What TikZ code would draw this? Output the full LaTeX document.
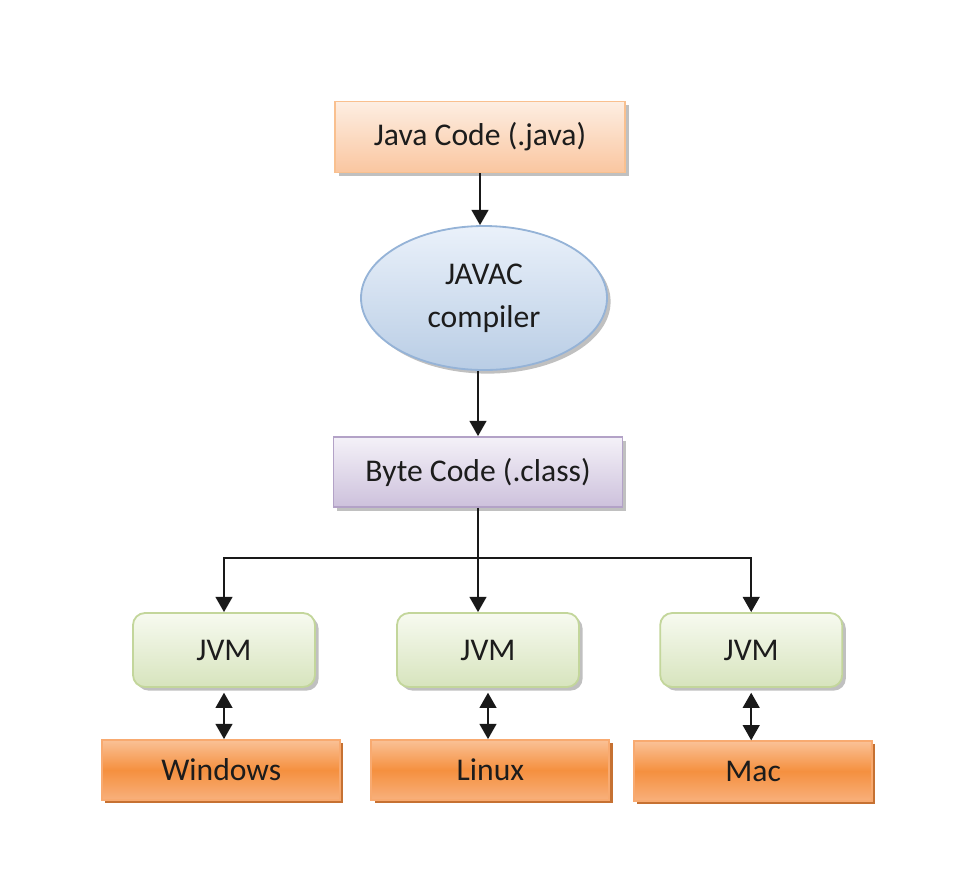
\documentclass[tikz,border=0pt]{standalone}
\usepackage{fontspec}
\setmainfont{Carlito}
\usetikzlibrary{arrows.meta,positioning,shapes.geometric,shadows}

\definecolor{srcTop}{HTML}{FDEEE2}
\definecolor{srcBot}{HTML}{FAC6A0}
\definecolor{srcLine}{HTML}{F9C08F}
\definecolor{cmpTop}{HTML}{EAF1FA}
\definecolor{cmpBot}{HTML}{B9CDE5}
\definecolor{cmpLine}{HTML}{95B3D7}
\definecolor{bcTop}{HTML}{F4F1F8}
\definecolor{bcBot}{HTML}{CDC1DC}
\definecolor{bcLine}{HTML}{B3A2C7}
\definecolor{vmTop}{HTML}{F7FAF0}
\definecolor{vmBot}{HTML}{D7E4BD}
\definecolor{vmLine}{HTML}{C3D69B}
\definecolor{osTop}{HTML}{FAC196}
\definecolor{osMid}{HTML}{F5903F}
\definecolor{osBot}{HTML}{F8B07C}
\definecolor{osLine}{HTML}{F8AA70}
\definecolor{osShadow}{HTML}{C0621C}
\definecolor{txt}{HTML}{1C1C1C}

% orange platform fill: light at the edges, deep in the middle
\pgfdeclareverticalshading{osfill}{100bp}{
  color(0bp)=(osBot); color(25bp)=(osBot); color(50bp)=(osMid);
  color(75bp)=(osTop); color(100bp)=(osTop)}

\begin{document}
\begin{tikzpicture}[
  font=\fontsize{22.5}{27}\selectfont,
  text=txt,
  box/.style={draw,line width=1.3pt,inner sep=0pt,align=center,
    drop shadow={shadow xshift=0.09cm,shadow yshift=-0.09cm,opacity=0.45,fill=black!55}},
  src/.style={box,top color=srcTop,bottom color=srcBot,draw=srcLine,
    minimum width=7.25cm,minimum height=1.775cm},
  cmp/.style={box,ellipse,top color=cmpTop,bottom color=cmpBot,draw=cmpLine,
    minimum width=6.15cm,minimum height=3.6cm,font=\fontsize{22.5}{30.5}\selectfont},
  bc/.style={box,top color=bcTop,bottom color=bcBot,draw=bcLine,
    minimum width=7.225cm,minimum height=1.75cm},
  vm/.style={box,rounded corners=0.3cm,top color=vmTop,bottom color=vmBot,draw=vmLine,
    minimum width=4.55cm,minimum height=1.85cm},
  os/.style={draw,line width=1.3pt,inner sep=0pt,align=center,shading=osfill,draw=osLine,
    minimum width=5.95cm,minimum height=1.5cm,
    drop shadow={shadow xshift=0.08cm,shadow yshift=-0.08cm,opacity=0.9,fill=osShadow}},
  ar/.style={-{Triangle[length=3.8mm,width=4.2mm]},line width=1.3pt,draw=black!90},
  dar/.style={{Triangle[length=3.8mm,width=4.2mm]}-{Triangle[length=3.8mm,width=4.2mm]},
    line width=1.3pt,draw=black!90,shorten <=0.12cm}]

 \useasboundingbox (0,0) rectangle (24.425,-21.75);

 % ---- compile chain ----
 \node[src] (java) at (12.0,-3.425) {Java Code (.java)};
 \node[cmp] (javac) at (12.1,-7.45) {JAVAC\\compiler};
 \node[bc] (byte) at (11.95,-11.8) {Byte Code (.class)};
 \draw[ar] (java.south) -- (java.south |- javac.north);
 \draw[ar] (byte.north |- javac.south) -- (byte.north);

 % ---- one JVM per platform ----
 \node[vm] (jvm1) at (5.6,-16.25) {JVM};
 \node[vm] (jvm2) at (12.2,-16.25) {JVM};
 \node[vm] (jvm3) at (18.78,-16.25) {JVM};
 \coordinate (split) at (11.95,-13.95);
 \draw[ar] (byte.south) -- (byte.south |- jvm2.north);
 \draw[ar] (split) -| (jvm1.north);
 \draw[ar] (split) -| (jvm3.north);

 % ---- platforms ----
 \node[os] (win) at (5.53,-19.25) {Windows};
 \node[os] (linux) at (12.26,-19.25) {Linux};
 \node[os] (mac) at (18.83,-19.28) {Mac};
 \draw[dar] (jvm1.south) -- (jvm1.south |- win.north);
 \draw[dar] (jvm2.south) -- (jvm2.south |- linux.north);
 \draw[dar] (jvm3.south) -- (jvm3.south |- mac.north);
\end{tikzpicture}
\end{document}
